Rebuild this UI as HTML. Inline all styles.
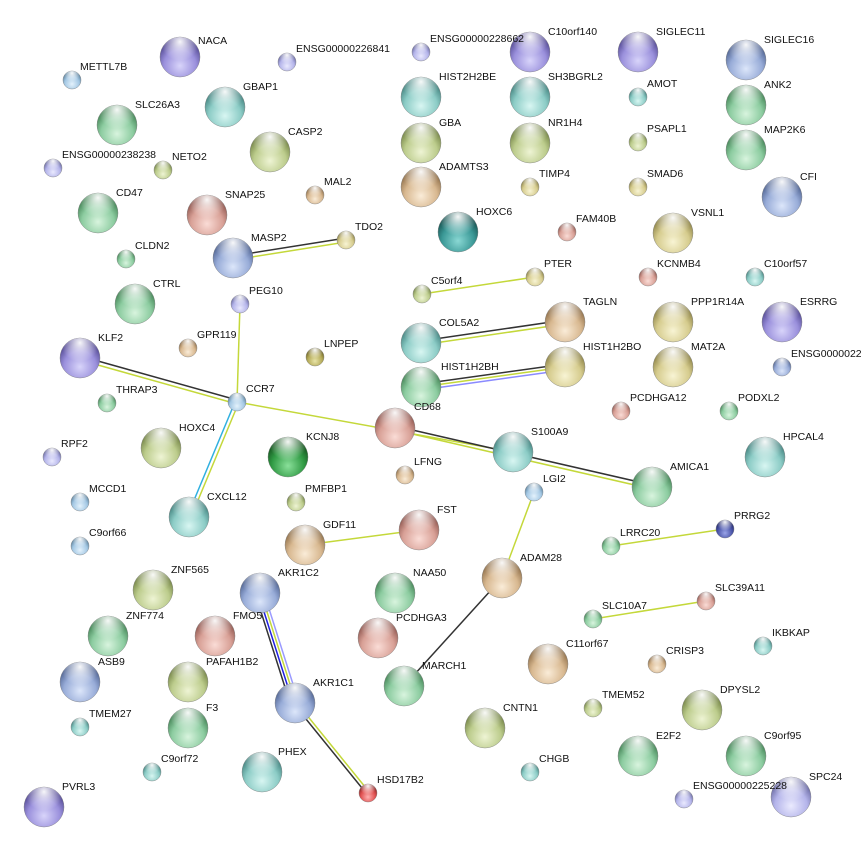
<!DOCTYPE html>
<html><head><meta charset="utf-8"><style>
html,body{margin:0;padding:0;background:#fff;}
svg{display:block;font-family:"Liberation Sans",sans-serif;font-size:10.5px;}
</style></head><body>
<svg width="861" height="853" viewBox="0 0 861 853" xmlns="http://www.w3.org/2000/svg">
<defs>
<radialGradient id="hl" cx="50%" cy="12%" r="48%"><stop offset="0" stop-color="#fff" stop-opacity="0.95"/><stop offset="1" stop-color="#fff" stop-opacity="0"/></radialGradient>
<radialGradient id="pu" cx="50%" cy="72%" r="62%"><stop offset="0" stop-color="#d8d4fa"/><stop offset="0.65" stop-color="#9a90dc"/><stop offset="1" stop-color="#5a509a"/></radialGradient>
<radialGradient id="bl" cx="50%" cy="72%" r="62%"><stop offset="0" stop-color="#dce6fa"/><stop offset="0.65" stop-color="#98acd8"/><stop offset="1" stop-color="#566a98"/></radialGradient>
<radialGradient id="te" cx="50%" cy="72%" r="62%"><stop offset="0" stop-color="#d8f6f2"/><stop offset="0.65" stop-color="#8cccc6"/><stop offset="1" stop-color="#4a8a86"/></radialGradient>
<radialGradient id="gr" cx="50%" cy="72%" r="62%"><stop offset="0" stop-color="#d8f4de"/><stop offset="0.65" stop-color="#8ccca0"/><stop offset="1" stop-color="#4a8a5c"/></radialGradient>
<radialGradient id="yg" cx="50%" cy="72%" r="62%"><stop offset="0" stop-color="#eef4d4"/><stop offset="0.65" stop-color="#bccc8c"/><stop offset="1" stop-color="#7a8a4c"/></radialGradient>
<radialGradient id="ye" cx="50%" cy="72%" r="62%"><stop offset="0" stop-color="#f8f4d4"/><stop offset="0.65" stop-color="#d6cc8e"/><stop offset="1" stop-color="#948a4e"/></radialGradient>
<radialGradient id="ta" cx="50%" cy="72%" r="62%"><stop offset="0" stop-color="#faecd8"/><stop offset="0.65" stop-color="#d8b890"/><stop offset="1" stop-color="#967650"/></radialGradient>
<radialGradient id="sa" cx="50%" cy="72%" r="62%"><stop offset="0" stop-color="#fadcd6"/><stop offset="0.65" stop-color="#d8a096"/><stop offset="1" stop-color="#965e56"/></radialGradient>
<radialGradient id="dt" cx="50%" cy="72%" r="62%"><stop offset="0" stop-color="#8ad8d4"/><stop offset="0.65" stop-color="#3a9896"/><stop offset="1" stop-color="#1a5856"/></radialGradient>
<radialGradient id="dg" cx="50%" cy="72%" r="62%"><stop offset="0" stop-color="#8ae09a"/><stop offset="0.65" stop-color="#309a44"/><stop offset="1" stop-color="#185a22"/></radialGradient>
<radialGradient id="re" cx="50%" cy="72%" r="62%"><stop offset="0" stop-color="#ffb0b0"/><stop offset="0.65" stop-color="#e05050"/><stop offset="1" stop-color="#902828"/></radialGradient>
<radialGradient id="lb" cx="50%" cy="72%" r="62%"><stop offset="0" stop-color="#e4f2fc"/><stop offset="0.65" stop-color="#a4c8e4"/><stop offset="1" stop-color="#6288a4"/></radialGradient>
<radialGradient id="db" cx="50%" cy="72%" r="62%"><stop offset="0" stop-color="#9aa4e8"/><stop offset="0.65" stop-color="#4a54a8"/><stop offset="1" stop-color="#262c70"/></radialGradient>
<radialGradient id="la" cx="50%" cy="72%" r="62%"><stop offset="0" stop-color="#eaeafe"/><stop offset="0.65" stop-color="#b4b4ea"/><stop offset="1" stop-color="#7070a8"/></radialGradient>
<radialGradient id="ol" cx="50%" cy="72%" r="62%"><stop offset="0" stop-color="#e8e4a8"/><stop offset="0.65" stop-color="#b4aa58"/><stop offset="1" stop-color="#746a28"/></radialGradient>
</defs>

<g fill="none" stroke-width="1.5">
<line x1="233" y1="256" x2="346" y2="238" stroke="#333"/><line x1="233" y1="260" x2="346" y2="242" stroke="#c4d83a"/>
<line x1="240" y1="304" x2="237" y2="402" stroke="#c4d83a"/>
<line x1="80" y1="356" x2="237" y2="400" stroke="#333"/><line x1="80" y1="360" x2="237" y2="404" stroke="#c4d83a"/>
<line x1="237" y1="402" x2="513" y2="452" stroke="#c4d83a"/>
<line x1="395" y1="426" x2="652" y2="485" stroke="#333"/><line x1="395" y1="430" x2="652" y2="489" stroke="#c4d83a"/>
<line x1="235" y1="402" x2="187" y2="517" stroke="#30b0e0"/><line x1="239" y1="402" x2="191" y2="517" stroke="#c4d83a"/>
<line x1="422" y1="294" x2="535" y2="277" stroke="#c4d83a"/>
<line x1="421" y1="341" x2="565" y2="320" stroke="#333"/><line x1="421" y1="345" x2="565" y2="324" stroke="#c4d83a"/>
<line x1="421" y1="384" x2="565" y2="364" stroke="#333"/><line x1="421" y1="387" x2="565" y2="367" stroke="#c4d83a"/><line x1="421" y1="390" x2="565" y2="370" stroke="#8a8aff"/>
<line x1="534" y1="492" x2="502" y2="578" stroke="#c4d83a"/>
<line x1="502" y1="578" x2="404" y2="686" stroke="#333"/>
<line x1="305" y1="545" x2="419" y2="530" stroke="#c4d83a"/>
<line x1="725" y1="529" x2="611" y2="546" stroke="#c4d83a"/>
<line x1="706" y1="601" x2="593" y2="619" stroke="#c4d83a"/>
<line x1="255" y1="593" x2="290" y2="703" stroke="#333"/><line x1="258" y1="593" x2="293" y2="703" stroke="#2020e0"/><line x1="261" y1="593" x2="296" y2="703" stroke="#c4d83a"/><line x1="264" y1="593" x2="299" y2="703" stroke="#9a9aff"/>
<line x1="293" y1="703" x2="366" y2="793" stroke="#333"/><line x1="297" y1="703" x2="370" y2="793" stroke="#c4d83a"/>
</g>

<g stroke="#777" stroke-width="0.4">
<circle cx="180" cy="57" r="20" fill="url(#pu)"/><circle cx="225" cy="107" r="20" fill="url(#te)"/><circle cx="117" cy="125" r="20" fill="url(#gr)"/><circle cx="270" cy="152" r="20" fill="url(#yg)"/><circle cx="98" cy="213" r="20" fill="url(#gr)"/><circle cx="207" cy="215" r="20" fill="url(#sa)"/><circle cx="233" cy="258" r="20" fill="url(#bl)"/><circle cx="135" cy="304" r="20" fill="url(#gr)"/><circle cx="80" cy="358" r="20" fill="url(#pu)"/><circle cx="161" cy="448" r="20" fill="url(#yg)"/><circle cx="288" cy="457" r="20" fill="url(#dg)"/><circle cx="189" cy="517" r="20" fill="url(#te)"/><circle cx="305" cy="545" r="20" fill="url(#ta)"/><circle cx="419" cy="530" r="20" fill="url(#sa)"/><circle cx="153" cy="590" r="20" fill="url(#yg)"/><circle cx="260" cy="593" r="20" fill="url(#bl)"/><circle cx="108" cy="636" r="20" fill="url(#gr)"/><circle cx="215" cy="636" r="20" fill="url(#sa)"/><circle cx="80" cy="682" r="20" fill="url(#bl)"/><circle cx="188" cy="682" r="20" fill="url(#yg)"/><circle cx="295" cy="703" r="20" fill="url(#bl)"/><circle cx="188" cy="728" r="20" fill="url(#gr)"/><circle cx="262" cy="772" r="20" fill="url(#te)"/><circle cx="44" cy="807" r="20" fill="url(#pu)"/><circle cx="395" cy="593" r="20" fill="url(#gr)"/><circle cx="378" cy="638" r="20" fill="url(#sa)"/><circle cx="404" cy="686" r="20" fill="url(#gr)"/><circle cx="485" cy="728" r="20" fill="url(#yg)"/><circle cx="502" cy="578" r="20" fill="url(#ta)"/><circle cx="548" cy="664" r="20" fill="url(#ta)"/><circle cx="702" cy="710" r="20" fill="url(#yg)"/><circle cx="638" cy="756" r="20" fill="url(#gr)"/><circle cx="746" cy="756" r="20" fill="url(#gr)"/><circle cx="791" cy="797" r="20" fill="url(#la)"/><circle cx="652" cy="487" r="20" fill="url(#gr)"/><circle cx="765" cy="457" r="20" fill="url(#te)"/><circle cx="513" cy="452" r="20" fill="url(#te)"/><circle cx="395" cy="428" r="20" fill="url(#sa)"/><circle cx="421" cy="387" r="20" fill="url(#gr)"/><circle cx="565" cy="367" r="20" fill="url(#ye)"/><circle cx="421" cy="343" r="20" fill="url(#te)"/><circle cx="565" cy="322" r="20" fill="url(#ta)"/><circle cx="673" cy="322" r="20" fill="url(#ye)"/><circle cx="673" cy="367" r="20" fill="url(#ye)"/><circle cx="782" cy="322" r="20" fill="url(#pu)"/><circle cx="673" cy="233" r="20" fill="url(#ye)"/><circle cx="782" cy="197" r="20" fill="url(#bl)"/><circle cx="458" cy="232" r="20" fill="url(#dt)"/><circle cx="421" cy="187" r="20" fill="url(#ta)"/><circle cx="421" cy="143" r="20" fill="url(#yg)"/><circle cx="530" cy="143" r="20" fill="url(#yg)"/><circle cx="421" cy="97" r="20" fill="url(#te)"/><circle cx="530" cy="97" r="20" fill="url(#te)"/><circle cx="530" cy="52" r="20" fill="url(#pu)"/><circle cx="638" cy="52" r="20" fill="url(#pu)"/><circle cx="746" cy="60" r="20" fill="url(#bl)"/><circle cx="746" cy="105" r="20" fill="url(#gr)"/><circle cx="746" cy="150" r="20" fill="url(#gr)"/>
<circle cx="72" cy="80" r="9" fill="url(#lb)"/><circle cx="287" cy="62" r="9" fill="url(#la)"/><circle cx="421" cy="52" r="9" fill="url(#la)"/><circle cx="638" cy="97" r="9" fill="url(#te)"/><circle cx="638" cy="142" r="9" fill="url(#yg)"/><circle cx="638" cy="187" r="9" fill="url(#ye)"/><circle cx="530" cy="187" r="9" fill="url(#ye)"/><circle cx="53" cy="168" r="9" fill="url(#la)"/><circle cx="163" cy="170" r="9" fill="url(#yg)"/><circle cx="315" cy="195" r="9" fill="url(#ta)"/><circle cx="346" cy="240" r="9" fill="url(#ye)"/><circle cx="126" cy="259" r="9" fill="url(#gr)"/><circle cx="567" cy="232" r="9" fill="url(#sa)"/><circle cx="648" cy="277" r="9" fill="url(#sa)"/><circle cx="755" cy="277" r="9" fill="url(#te)"/><circle cx="535" cy="277" r="9" fill="url(#ye)"/><circle cx="422" cy="294" r="9" fill="url(#yg)"/><circle cx="240" cy="304" r="9" fill="url(#la)"/><circle cx="188" cy="348" r="9" fill="url(#ta)"/><circle cx="315" cy="357" r="9" fill="url(#ol)"/><circle cx="782" cy="367" r="9" fill="url(#bl)"/><circle cx="107" cy="403" r="9" fill="url(#gr)"/><circle cx="237" cy="402" r="9" fill="url(#lb)"/><circle cx="621" cy="411" r="9" fill="url(#sa)"/><circle cx="729" cy="411" r="9" fill="url(#gr)"/><circle cx="52" cy="457" r="9" fill="url(#la)"/><circle cx="405" cy="475" r="9" fill="url(#ta)"/><circle cx="80" cy="502" r="9" fill="url(#lb)"/><circle cx="296" cy="502" r="9" fill="url(#yg)"/><circle cx="534" cy="492" r="9" fill="url(#lb)"/><circle cx="80" cy="546" r="9" fill="url(#lb)"/><circle cx="725" cy="529" r="9" fill="url(#db)"/><circle cx="611" cy="546" r="9" fill="url(#gr)"/><circle cx="706" cy="601" r="9" fill="url(#sa)"/><circle cx="593" cy="619" r="9" fill="url(#gr)"/><circle cx="763" cy="646" r="9" fill="url(#te)"/><circle cx="657" cy="664" r="9" fill="url(#ta)"/><circle cx="80" cy="727" r="9" fill="url(#te)"/><circle cx="593" cy="708" r="9" fill="url(#yg)"/><circle cx="152" cy="772" r="9" fill="url(#te)"/><circle cx="530" cy="772" r="9" fill="url(#te)"/><circle cx="368" cy="793" r="9" fill="url(#re)"/><circle cx="684" cy="799" r="9" fill="url(#la)"/>
</g>
<g fill="url(#hl)">
<circle cx="180" cy="57" r="20"/><circle cx="225" cy="107" r="20"/><circle cx="117" cy="125" r="20"/><circle cx="270" cy="152" r="20"/><circle cx="98" cy="213" r="20"/><circle cx="207" cy="215" r="20"/><circle cx="233" cy="258" r="20"/><circle cx="135" cy="304" r="20"/><circle cx="80" cy="358" r="20"/><circle cx="161" cy="448" r="20"/><circle cx="288" cy="457" r="20"/><circle cx="189" cy="517" r="20"/><circle cx="305" cy="545" r="20"/><circle cx="419" cy="530" r="20"/><circle cx="153" cy="590" r="20"/><circle cx="260" cy="593" r="20"/><circle cx="108" cy="636" r="20"/><circle cx="215" cy="636" r="20"/><circle cx="80" cy="682" r="20"/><circle cx="188" cy="682" r="20"/><circle cx="295" cy="703" r="20"/><circle cx="188" cy="728" r="20"/><circle cx="262" cy="772" r="20"/><circle cx="44" cy="807" r="20"/><circle cx="395" cy="593" r="20"/><circle cx="378" cy="638" r="20"/><circle cx="404" cy="686" r="20"/><circle cx="485" cy="728" r="20"/><circle cx="502" cy="578" r="20"/><circle cx="548" cy="664" r="20"/><circle cx="702" cy="710" r="20"/><circle cx="638" cy="756" r="20"/><circle cx="746" cy="756" r="20"/><circle cx="791" cy="797" r="20"/><circle cx="652" cy="487" r="20"/><circle cx="765" cy="457" r="20"/><circle cx="513" cy="452" r="20"/><circle cx="395" cy="428" r="20"/><circle cx="421" cy="387" r="20"/><circle cx="565" cy="367" r="20"/><circle cx="421" cy="343" r="20"/><circle cx="565" cy="322" r="20"/><circle cx="673" cy="322" r="20"/><circle cx="673" cy="367" r="20"/><circle cx="782" cy="322" r="20"/><circle cx="673" cy="233" r="20"/><circle cx="782" cy="197" r="20"/><circle cx="458" cy="232" r="20"/><circle cx="421" cy="187" r="20"/><circle cx="421" cy="143" r="20"/><circle cx="530" cy="143" r="20"/><circle cx="421" cy="97" r="20"/><circle cx="530" cy="97" r="20"/><circle cx="530" cy="52" r="20"/><circle cx="638" cy="52" r="20"/><circle cx="746" cy="60" r="20"/><circle cx="746" cy="105" r="20"/><circle cx="746" cy="150" r="20"/>
<circle cx="72" cy="80" r="9"/><circle cx="287" cy="62" r="9"/><circle cx="421" cy="52" r="9"/><circle cx="638" cy="97" r="9"/><circle cx="638" cy="142" r="9"/><circle cx="638" cy="187" r="9"/><circle cx="530" cy="187" r="9"/><circle cx="53" cy="168" r="9"/><circle cx="163" cy="170" r="9"/><circle cx="315" cy="195" r="9"/><circle cx="346" cy="240" r="9"/><circle cx="126" cy="259" r="9"/><circle cx="567" cy="232" r="9"/><circle cx="648" cy="277" r="9"/><circle cx="755" cy="277" r="9"/><circle cx="535" cy="277" r="9"/><circle cx="422" cy="294" r="9"/><circle cx="240" cy="304" r="9"/><circle cx="188" cy="348" r="9"/><circle cx="315" cy="357" r="9"/><circle cx="782" cy="367" r="9"/><circle cx="107" cy="403" r="9"/><circle cx="237" cy="402" r="9"/><circle cx="621" cy="411" r="9"/><circle cx="729" cy="411" r="9"/><circle cx="52" cy="457" r="9"/><circle cx="405" cy="475" r="9"/><circle cx="80" cy="502" r="9"/><circle cx="296" cy="502" r="9"/><circle cx="534" cy="492" r="9"/><circle cx="80" cy="546" r="9"/><circle cx="725" cy="529" r="9"/><circle cx="611" cy="546" r="9"/><circle cx="706" cy="601" r="9"/><circle cx="593" cy="619" r="9"/><circle cx="763" cy="646" r="9"/><circle cx="657" cy="664" r="9"/><circle cx="80" cy="727" r="9"/><circle cx="593" cy="708" r="9"/><circle cx="152" cy="772" r="9"/><circle cx="530" cy="772" r="9"/><circle cx="368" cy="793" r="9"/><circle cx="684" cy="799" r="9"/>
</g>

<g fill="#111">
<text x="198" y="44">NACA</text><text x="243" y="90">GBAP1</text><text x="135" y="108">SLC26A3</text><text x="288" y="135">CASP2</text><text x="116" y="196">CD47</text><text x="225" y="198">SNAP25</text><text x="251" y="241">MASP2</text><text x="153" y="287">CTRL</text><text x="98" y="341">KLF2</text><text x="179" y="431">HOXC4</text><text x="306" y="440">KCNJ8</text><text x="207" y="500">CXCL12</text><text x="323" y="528">GDF11</text><text x="437" y="513">FST</text><text x="171" y="573">ZNF565</text><text x="278" y="576">AKR1C2</text><text x="126" y="619">ZNF774</text><text x="233" y="619">FMO5</text><text x="98" y="665">ASB9</text><text x="206" y="665">PAFAH1B2</text><text x="313" y="686">AKR1C1</text><text x="206" y="711">F3</text><text x="278" y="755">PHEX</text><text x="62" y="790">PVRL3</text><text x="413" y="576">NAA50</text><text x="396" y="621">PCDHGA3</text><text x="422" y="669">MARCH1</text><text x="503" y="711">CNTN1</text><text x="520" y="561">ADAM28</text><text x="566" y="647">C11orf67</text><text x="720" y="693">DPYSL2</text><text x="656" y="739">E2F2</text><text x="764" y="739">C9orf95</text><text x="809" y="780">SPC24</text><text x="670" y="470">AMICA1</text><text x="783" y="440">HPCAL4</text><text x="531" y="435">S100A9</text><text x="414" y="410">CD68</text><text x="441" y="370">HIST1H2BH</text><text x="583" y="350">HIST1H2BO</text><text x="439" y="326">COL5A2</text><text x="583" y="305">TAGLN</text><text x="691" y="305">PPP1R14A</text><text x="691" y="350">MAT2A</text><text x="800" y="305">ESRRG</text><text x="691" y="216">VSNL1</text><text x="800" y="180">CFI</text><text x="476" y="215">HOXC6</text><text x="439" y="170">ADAMTS3</text><text x="439" y="126">GBA</text><text x="548" y="126">NR1H4</text><text x="439" y="80">HIST2H2BE</text><text x="548" y="80">SH3BGRL2</text><text x="548" y="35">C10orf140</text><text x="656" y="35">SIGLEC11</text><text x="764" y="43">SIGLEC16</text><text x="764" y="88">ANK2</text><text x="764" y="133">MAP2K6</text>
<text x="80" y="70">METTL7B</text><text x="296" y="52">ENSG00000226841</text><text x="430" y="42">ENSG00000228662</text><text x="647" y="87">AMOT</text><text x="647" y="132">PSAPL1</text><text x="647" y="177">SMAD6</text><text x="539" y="177">TIMP4</text><text x="62" y="158">ENSG00000238238</text><text x="172" y="160">NETO2</text><text x="324" y="185">MAL2</text><text x="355" y="230">TDO2</text><text x="135" y="249">CLDN2</text><text x="576" y="222">FAM40B</text><text x="657" y="267">KCNMB4</text><text x="764" y="267">C10orf57</text><text x="544" y="267">PTER</text><text x="431" y="284">C5orf4</text><text x="249" y="294">PEG10</text><text x="197" y="338">GPR119</text><text x="324" y="347">LNPEP</text><text x="791" y="357">ENSG0000022</text><text x="116" y="393">THRAP3</text><text x="246" y="392">CCR7</text><text x="630" y="401">PCDHGA12</text><text x="738" y="401">PODXL2</text><text x="61" y="447">RPF2</text><text x="414" y="465">LFNG</text><text x="89" y="492">MCCD1</text><text x="305" y="492">PMFBP1</text><text x="543" y="482">LGI2</text><text x="89" y="536">C9orf66</text><text x="734" y="519">PRRG2</text><text x="620" y="536">LRRC20</text><text x="715" y="591">SLC39A11</text><text x="602" y="609">SLC10A7</text><text x="772" y="636">IKBKAP</text><text x="666" y="654">CRISP3</text><text x="89" y="717">TMEM27</text><text x="602" y="698">TMEM52</text><text x="161" y="762">C9orf72</text><text x="539" y="762">CHGB</text><text x="377" y="783">HSD17B2</text><text x="693" y="789">ENSG00000225228</text>
</g>
</svg>
</body></html>
